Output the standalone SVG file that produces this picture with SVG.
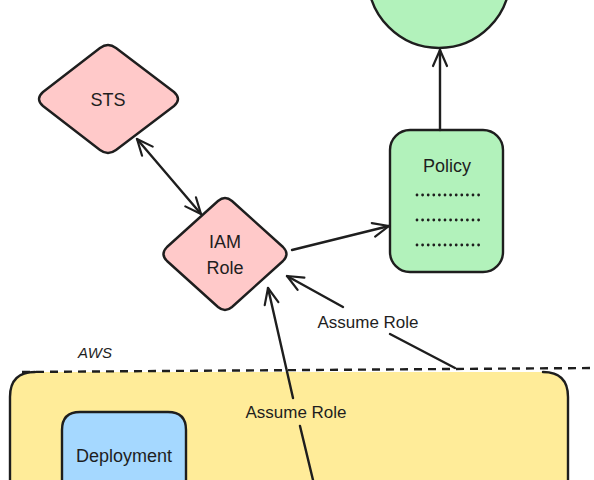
<svg xmlns="http://www.w3.org/2000/svg" width="594" height="480" viewBox="0 0 594 480">
<defs>
<style>
.s{stroke:#1e1e1e;stroke-width:2.4;stroke-linejoin:round;stroke-linecap:round}
.t{font-family:"Liberation Sans","DejaVu Sans",sans-serif;fill:#1e1e1e;text-anchor:middle}
.c{fill:none;stroke:#1e1e1e;stroke-width:2.4;stroke-linecap:round}
</style>
<marker id="ah" viewBox="0 0 20 20" refX="18" refY="10" markerWidth="20" markerHeight="20" markerUnits="userSpaceOnUse" orient="auto-start-reverse">
<path d="M2,3 L18,10 L2,17" fill="none" stroke="#1e1e1e" stroke-width="2.2" stroke-linecap="round" stroke-linejoin="round"/>
</marker>
</defs>
<rect width="594" height="480" fill="#ffffff"/>

<g id="aws-zone">
<path d="M10,480 L10,397 Q10,372 35,372 L543,372 Q568,372 568,397 L568,480 Z" fill="#ffec99"/>
<path class="s" d="M10,480 L10,397 Q10,372 35,372 M543,372 Q568,372 568,397 L568,480" fill="none"/>
<line x1="22" y1="372" x2="594" y2="368" stroke="#1e1e1e" stroke-width="2.4" stroke-dasharray="8,6"/>
<text class="t" x="95" y="358" font-size="15" font-style="italic">AWS</text>
</g>

<g id="policy-doc">
<circle class="s" cx="439" cy="-23" r="71" fill="#b2f2bb"/>
</g>

<g id="sts">
<path class="s" d="M100,48 Q108,42 116,48 L174,92 Q182,99 174,106 L116,150 Q108,156 100,150 L43,106 Q35,99 43,92 Z" fill="#ffc9c9"/>
<text class="t" x="108" y="106" font-size="18">STS</text>
</g>

<g id="iam-role">
<path class="s" d="M218,201 Q225,195 232,201 L283,247 Q290,254 283,261 L232,307 Q225,313 218,307 L167,261 Q160,254 167,247 Z" fill="#ffc9c9"/>
<text class="t" x="225" y="248" font-size="18">IAM</text>
<text class="t" x="225" y="274" font-size="18">Role</text>
</g>

<g id="policy">
<rect class="s" x="390" y="130" width="113" height="142" rx="20" fill="#b2f2bb"/>
<text class="t" x="447" y="172" font-size="18">Policy</text>
<g stroke="#1e1e1e" stroke-width="2.8" stroke-linecap="round" stroke-dasharray="0,5.6">
<line x1="417" y1="195" x2="479" y2="195"/>
<line x1="417" y1="220" x2="479" y2="220"/>
<line x1="417" y1="245" x2="479" y2="245"/>
</g>
</g>

<g id="deployment">
<path class="s" d="M62,480 L62,430 Q62,412 80,412 L168,412 Q186,412 186,430 L186,480" fill="#a5d8ff"/>
<text class="t" x="124" y="462" font-size="18">Deployment</text>
</g>

<g id="connectors">
<line class="c" x1="440" y1="130" x2="440" y2="50" marker-end="url(#ah)"/>
<line class="c" x1="137" y1="139" x2="201" y2="214" marker-start="url(#ah)" marker-end="url(#ah)"/>
<line class="c" x1="292" y1="250" x2="389" y2="226" marker-end="url(#ah)"/>
<line class="c" x1="455" y1="368" x2="390" y2="334"/>
<line class="c" x1="343" y1="307" x2="287" y2="276" marker-end="url(#ah)"/>
<text class="t" x="368" y="328" font-size="17">Assume Role</text>
<line class="c" x1="313" y1="480" x2="300" y2="426"/>
<line class="c" x1="293" y1="398" x2="268" y2="288" marker-end="url(#ah)"/>
<text class="t" x="296" y="418" font-size="17">Assume Role</text>
</g>
</svg>
